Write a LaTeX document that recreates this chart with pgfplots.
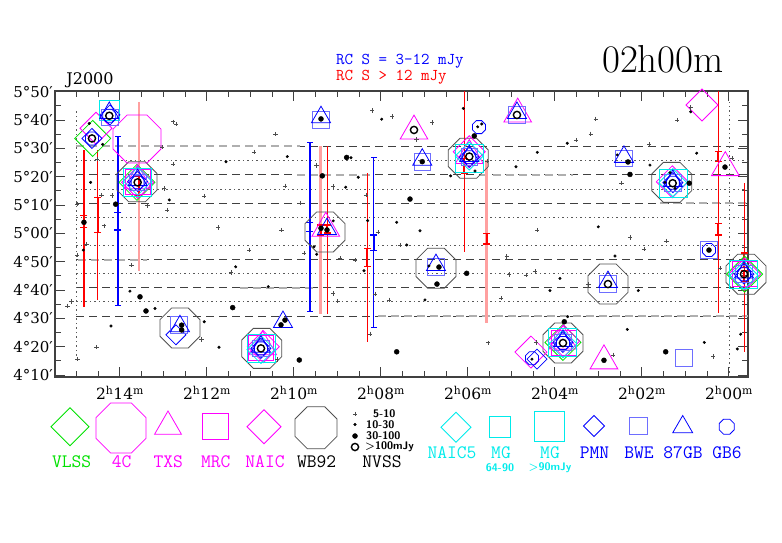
\documentclass[border=0pt]{standalone}
\usepackage{fontspec}
\usepackage{pgfplots}
\pgfplotsset{compat=1.18}
\newfontfamily\dvs{DejaVu Serif}
\definecolor{vlss}{RGB}{0,225,0}
\definecolor{mag}{RGB}{255,0,255}
\definecolor{cyn}{RGB}{0,235,235}
\definecolor{blu}{RGB}{0,0,255}
\definecolor{lblu}{RGB}{110,110,255}
\definecolor{wbg}{RGB}{80,80,80}
\definecolor{pnk}{RGB}{255,160,160}
\definecolor{rcred}{RGB}{255,0,0}
\definecolor{grline}{RGB}{175,175,175}
\pgfdeclareplotmark{oct}{%
  \pgfpathmoveto{\pgfqpoint{\pgfplotmarksize}{0.4142\pgfplotmarksize}}%
  \pgfpathlineto{\pgfqpoint{0.4142\pgfplotmarksize}{\pgfplotmarksize}}%
  \pgfpathlineto{\pgfqpoint{-0.4142\pgfplotmarksize}{\pgfplotmarksize}}%
  \pgfpathlineto{\pgfqpoint{-\pgfplotmarksize}{0.4142\pgfplotmarksize}}%
  \pgfpathlineto{\pgfqpoint{-\pgfplotmarksize}{-0.4142\pgfplotmarksize}}%
  \pgfpathlineto{\pgfqpoint{-0.4142\pgfplotmarksize}{-\pgfplotmarksize}}%
  \pgfpathlineto{\pgfqpoint{0.4142\pgfplotmarksize}{-\pgfplotmarksize}}%
  \pgfpathlineto{\pgfqpoint{\pgfplotmarksize}{-0.4142\pgfplotmarksize}}%
  \pgfpathclose\pgfusepathqstroke}
\pgfdeclareplotmark{dia}{%
  \pgfpathmoveto{\pgfqpoint{0pt}{\pgfplotmarksize}}%
  \pgfpathlineto{\pgfqpoint{\pgfplotmarksize}{0pt}}%
  \pgfpathlineto{\pgfqpoint{0pt}{-\pgfplotmarksize}}%
  \pgfpathlineto{\pgfqpoint{-\pgfplotmarksize}{0pt}}%
  \pgfpathclose\pgfusepathqstroke}
\pgfplotsset{
  cat/.style={only marks, mark options={line width=0.8pt, solid}},
  dashg/.style={black!75, line width=0.8pt, dash pattern=on 8pt off 5pt, forget plot},
  dashgg/.style={grline, line width=2pt, dash pattern=on 8pt off 5pt, forget plot},
  dotg/.style={black!65, line width=0.9pt, dash pattern=on 1.2pt off 3.3pt, forget plot},
}
\begin{document}
\begin{tikzpicture}
\useasboundingbox (0,0) rectangle (782pt,542pt);
\begin{axis}[
  at={(55pt,165pt)}, anchor=south west,
  scale only axis, width=693pt, height=286pt,
  x dir=reverse,
  xmin=-0.437, xmax=15.494, ymin=249.3, ymax=350.25,
  xtick={0,2,...,14},
  xticklabels={2\textsuperscript{h}00\textsuperscript{m},2\textsuperscript{h}02\textsuperscript{m},2\textsuperscript{h}04\textsuperscript{m},2\textsuperscript{h}06\textsuperscript{m},2\textsuperscript{h}08\textsuperscript{m},2\textsuperscript{h}10\textsuperscript{m},2\textsuperscript{h}12\textsuperscript{m},2\textsuperscript{h}14\textsuperscript{m}},
  minor xtick={0.5,1,...,15},
  ytick={250,260,...,350},
  yticklabels={4°10′,4°20′,4°30′,4°40′,4°50′,5°00′,5°10′,5°20′,5°30′,5°40′,5°50′},
  minor ytick={255,265,...,345},
  tick align=inside,
  major tick length=10pt, minor tick length=6pt,
  axis line style={line width=1.3pt, black!75},
  every tick/.style={line width=1pt, black!75},
  xticklabel style={font=\dvs\fontsize{15.5}{15.5}\selectfont, inner sep=0pt, yshift=-9pt},
  yticklabel style={font=\dvs\fontsize{15}{15}\selectfont, inner sep=0pt, xshift=-2pt},
  clip=true,
  unbounded coords=jump,
]
% ---- survey strip boundaries
\addplot[dashg] coordinates {(15,330.7) (-0.44,330.7)};
\addplot[dashg] coordinates {(15,320.7) (-0.44,320.7)};
\addplot[dashg] coordinates {(15,310.7) (-0.44,310.7)};
\addplot[dashg] coordinates {(15,290.7) (-0.44,290.7)};
\addplot[dashg] coordinates {(15,280.8) (-0.44,280.8)};
\addplot[dashg] coordinates {(15,270.8) (-0.44,270.8)};
\addplot[dashgg] coordinates {(15,330.7) (9.86,330.7)};
\addplot[dashgg] coordinates {(9.93,320.7) (8.18,320.7)};
\addplot[dashgg] coordinates {(5.72,320.7) (3.59,320.7)};
\addplot[dashgg] coordinates {(1.59,310.7) (-0.44,310.7)};
\addplot[dashgg] coordinates {(14.97,290.7) (13.38,290.7)};
\addplot[dashgg] coordinates {(11.24,280.8) (9.47,280.8)};
\addplot[dashgg] coordinates {(8.07,270.8) (-0.44,270.8)};
\addplot[dotg] coordinates {(15,325.6) (-0.44,325.6)};
\addplot[dotg] coordinates {(15,315.6) (-0.44,315.6)};
\addplot[dotg] coordinates {(15,305.6) (-0.44,305.6)};
\addplot[dotg] coordinates {(15,295.9) (-0.44,295.9)};
\addplot[dotg] coordinates {(15,285.9) (-0.44,285.9)};
\addplot[dotg] coordinates {(15,275.9) (-0.44,275.9)};
\addplot[dotg] coordinates {(15,255.3) (15,344)};
\addplot[dotg] coordinates {(0,249.3) (0,346.5)};
% ---- RC sources, S > 12 mJy: declination ranges (pink: wide, red: narrow)
\addplot[color=pnk, line width=2.6pt, forget plot] coordinates {
(13.563,346.4) (13.563,286.8) (nan,nan)
(9.386,330.8) (9.386,271.5) (nan,nan)
(5.570,325.9) (5.570,268.2)};
\addplot[color=red, line width=1.1pt, forget plot] coordinates {
(14.828,329.4) (14.828,274.0) (nan,nan)
(14.513,329.4) (14.513,276.5) (nan,nan)
(9.234,330.8) (9.234,271.5) (nan,nan)
(8.315,321.2) (8.315,261.8) (nan,nan)
(6.085,350.25) (6.085,293.5) (nan,nan)
(0.246,350.25) (0.246,271.8) (nan,nan)
(-0.352,317.7) (-0.352,258.2)};
% ---- RC sources, S = 3-12 mJy
\addplot[color=blue, line width=1.1pt, mark=-, mark size=3pt, mark options={color=blue, line width=1pt}, forget plot] coordinates {
(14.046,334.1) (14.046,274.4) (nan,nan)
(9.632,332.1) (9.632,272.3) (nan,nan)
(8.168,326.7) (8.168,266.8)};
% ---- RC positions
\addplot[color=red, line width=1.8pt, mark=-, mark size=3.5pt, mark options={color=red, line width=1.3pt}, forget plot] coordinates {
(14.828,306.2) (14.828,302.1) (nan,nan)
(14.513,312.6) (14.513,300.4) (nan,nan)
(13.563,320.0) (13.563,313.5) (nan,nan)
(9.386,302.9) (9.386,299.4) (nan,nan)
(9.234,302.9) (9.234,300.1) (nan,nan)
(8.315,294.7) (8.315,288.2) (nan,nan)
(6.085,326.5) (6.085,321.2) (nan,nan)
(5.570,300.0) (5.570,296.2) (nan,nan)
(0.246,328.8) (0.246,325.3) (nan,nan)
(0.246,303.5) (0.246,299.4) (nan,nan)
(-0.352,293.1) (-0.352,288.0) (nan,nan)
(-0.352,287.0) (-0.352,283.0)};
\addplot[color=blue, line width=1.8pt, mark=-, mark size=3.5pt, mark options={color=blue, line width=1.3pt}, forget plot] coordinates {
(14.046,307.4) (14.046,301.2) (nan,nan)
(9.632,303.8) (9.632,300.6) (nan,nan)
(8.168,299.4) (8.168,293.9)};
% ---- WB92
\addplot[cat, mark=oct, mark size=20pt, wbg] coordinates {(13.609,318.2) (5.993,326.5) (9.287,300.5) (6.736,287.7) (10.743,259.4) (12.621,266.6) (1.317,318.0) (2.782,282.1) (3.816,261.3) (-0.391,285.6)};
% ---- 4C
\addplot[cat, mark=oct, mark size=24pt, mag] coordinates {(13.609,333.3)};
% ---- VLSS
\addplot[cat, mark=dia, mark size=18pt, vlss] coordinates {(14.628,333.5) (13.609,318.0) (3.816,261.5) (-0.36,285.6)};
% ---- TXS
\addplot[cat, mark=triangle, mark size=16pt, mag] coordinates {(13.594,318.6) (7.241,336.1) (5.970,327.5) (9.269,301.8) (10.72,260.0) (4.857,342.1) (0.085,323.2) (3.816,262.0) (2.874,255.0)};
% ---- MRC
\addplot[cat, mark=square, mark size=12.5pt, mag] coordinates {(13.594,318.0) (10.76,259.4) (3.80,261.3) (-0.36,285.6)};
% ---- NAIC
\addplot[cat, mark=dia, mark size=16pt, mag] coordinates {(14.552,337.1) (13.594,318.0) (5.970,328.8) (10.705,260.0) (1.302,318.2) (0.621,345.3) (3.80,262.0) (4.552,258.1) (-0.36,285.6)};
% ---- NAIC5
\addplot[cat, mark=dia, mark size=14pt, cyn] coordinates {(13.594,318.4) (5.970,327.3) (10.76,259.0) (1.29,317.9) (3.816,261.0) (-0.345,285.2)};
% ---- MG > 90 mJy
\addplot[cat, mark=square, mark size=14pt, cyn] coordinates {(13.594,318.0) (5.97,326.5) (10.76,259.4) (1.28,317.6) (3.82,261.5) (-0.33,285.6)};
% ---- MG 64-90 mJy
\addplot[cat, mark=square, mark size=10pt, cyn] coordinates {(14.253,343.5)};
% ---- PMN
\addplot[cat, mark=dia, mark size=10pt, blu] coordinates {(14.644,333.5) (14.23,341.8) (13.594,318.3) (5.97,326.9) (10.76,259.4) (12.713,264.2) (1.29,317.9) (3.816,261.5) (4.414,255.6) (-0.345,285.6)};
% ---- BWE
\addplot[cat, mark=square, mark size=8.3pt, lblu] coordinates {(14.23,341.0) (13.594,318.0) (9.379,340.0) (5.97,326.9) (7.051,325.3) (6.736,288.1) (10.76,259.4) (12.644,267.6) (4.874,341.8) (1.29,317.9) (2.414,326.5) (2.782,282.1) (3.816,261.5) (1.034,256.0) (0.460,294.1) (-0.345,285.6)};
% ---- 87GB
\addplot[cat, mark=triangle, mark size=11pt, blu] coordinates {(14.246,342.5) (13.594,318.8) (9.379,341.0) (5.97,327.3) (7.051,326.0) (9.241,301.5) (6.736,288.8) (10.253,268.7) (10.76,260.0) (12.621,267.2) (4.874,342.5) (1.29,318.5) (2.414,327.0) (2.782,282.8) (3.816,262.0) (-0.345,286.2)};
% ---- GB6
\addplot[cat, mark=oct, mark size=6.5pt, blu] coordinates {(14.644,333.5) (14.246,341.5) (13.594,318.0) (5.97,326.9) (5.747,337.5) (10.76,259.4) (1.29,317.9) (3.816,261.3) (4.529,255.9) (0.460,294.1) (-0.345,285.6)};
% ---- NVSS 5-10 mJy
\addplot[only marks, mark=+, mark size=2.2pt, black!70, mark options={line width=0.5pt}] coordinates {
(14.522,326.2) (12.775,339.4) (12.713,338.6) (13.028,330.4) (12.775,324.5) (10.920,328.7) (12.989,315.9) (12.062,313.2) (12.913,308.2) (13.363,309.8)
(14.421,313.5) (14.177,313.3) (14.982,310.4) (14.361,302.7) (11.740,302.1) (14.766,296.2) (14.982,292.4) (13.731,288.8) (11.028,294.1) (11.448,286.2)
(15.110,275.9) (15.202,274.4) (14.536,259.8) (14.972,255.6) (12.122,262.6) (8.200,343.3) (7.740,341.2) (6.821,339.1) (7.179,333.2) (10.421,335.0)
(9.478,323.9) (10.207,316.8) (9.097,316.5) (9.862,310.8) (8.345,313.5) (10.283,301.2) (8.062,300.4) (5.556,325.6) (9.763,293.0) (8.943,291.2)
(8.598,290.6) (7.563,295.9) (8.138,278.6) (9.097,278.8) (8.995,276.1) (7.816,276.5) (5.241,277.1) (5.110,291.8) (5.051,285.5) (8.253,264.5)
(10.384,255.5) (5.533,261.4) (3.064,340.4) (1.189,340.0) (3.179,335.1) (3.517,332.9) (1.832,331.4) (-0.076,326.5) (2.467,317.7) (0.880,344.4)
(4.407,301.2) (2.276,298.6) (1.432,297.3) (1.954,294.4) (4.667,285.3) (4.460,286.5) (3.234,282.0) (0.207,287.7) (0.361,256.5) (4.437,261.5) (2.660,257.1)};
% ---- NVSS 10-30 mJy
\addplot[only marks, mark=*, mark size=1.3pt, black] coordinates {
(14.706,338.8) (14.398,331.4) (14.674,318.0) (11.563,325.3) (12.867,311.8) (14.844,294.1) (11.340,288.2) (13.770,279.6) (13.195,273.5) (14.207,267.3)
(12.062,268.8) (11.724,259.8) (7.984,340.3) (6.108,344.1) (10.154,327.1) (8.690,326.7) (8.522,319.8) (8.811,316.3) (8.306,304.5) (7.639,303.9)
(7.103,300.9) (9.097,304.4) (6.398,320.3) (5.839,322.0) (9.540,295.3) (9.478,292.6) (8.391,286.8) (7.409,295.9) (10.591,281.2) (6.989,276.5)
(3.717,331.8) (4.407,328.6) (0.743,328.3) (4.897,323.5) (1.816,324.1) (2.568,327.7) (0.880,342.9) (3.005,302.3) (2.621,292.0) (3.885,284.1)
(4.115,279.8) (2.085,279.8) (-0.269,264.4) (-0.191,259.2) (3.708,270.6) (2.338,266.1) (0.568,261.5) (4.529,255.6) (6.897,288.5) (5.777,337.6)
(5.685,338.6) (1.471,318.0) (1.241,315.9) (1.356,321.4)};
% ---- NVSS 30-100 mJy
\addplot[only marks, mark=*, mark size=2.5pt, black] coordinates {
(14.099,310.3) (14.828,303.9) (13.540,277.6) (13.402,272.6) (11.409,273.8) (5.855,334.4) (8.789,326.8) (9.349,320.3) (7.333,312.1) (6.030,285.9)
(7.639,258.2) (9.878,255.3) (2.276,320.8) (0.913,317.7) (3.786,268.8) (1.455,258.2) (9.379,340.4) (7.051,325.3) (9.379,301.8) (9.241,301.2)
(6.713,282.1) (6.667,288.1) (10.299,267.7) (10.207,269.4) (12.582,267.6) (12.582,265.9) (0.460,294.1) (2.322,325.2) (0.092,323.4) (2.874,255.2)};
% ---- NVSS > 100 mJy
\addplot[only marks, mark=o, mark size=3.6pt, black, mark options={line width=1.4pt}] coordinates {
(14.644,333.5) (14.246,341.5) (13.594,318.0) (7.241,336.5) (5.970,327.1) (10.759,259.4) (4.874,341.8) (1.294,317.7) (2.782,282.1) (3.816,261.3) (-0.345,285.6)};
\end{axis}
% ---- legend and titles (pixel frame of the picture)
\begin{axis}[
  at={(0pt,0pt)}, anchor=south west,
  scale only axis, width=782pt, height=542pt,
  xmin=0, xmax=782, ymin=0, ymax=542, y dir=reverse,
  hide axis, clip=false,
]
\addplot[cat, mark=dia, mark size=19pt, vlss] coordinates {(70,426.7)};
\addplot[cat, mark=oct, mark size=25pt, mag] coordinates {(121,428)};
\addplot[cat, mark=triangle, mark size=15.5pt, mag] coordinates {(168,426.5)};
\addplot[cat, mark=square, mark size=13pt, mag] coordinates {(215,426.7)};
\addplot[cat, mark=dia, mark size=17pt, mag] coordinates {(264,426.7)};
\addplot[cat, mark=oct, mark size=21pt, wbg] coordinates {(316,427.7)};
\addplot[only marks, mark=+, mark size=2.2pt, black!70, mark options={line width=0.5pt}] coordinates {(355,414)};
\addplot[only marks, mark=*, mark size=1.3pt, black] coordinates {(355,424.5)};
\addplot[only marks, mark=*, mark size=2.5pt, black] coordinates {(355,436)};
\addplot[only marks, mark=o, mark size=3.6pt, black, mark options={line width=1.4pt}] coordinates {(355,447)};
\addplot[cat, mark=dia, mark size=15pt, cyn] coordinates {(456,427.3)};
\addplot[cat, mark=square, mark size=10.5pt, cyn] coordinates {(500,426.7)};
\addplot[cat, mark=square, mark size=15pt, cyn] coordinates {(549.3,426.7)};
\addplot[cat, mark=dia, mark size=10.5pt, blu] coordinates {(594,426)};
\addplot[cat, mark=square, mark size=8.7pt, lblu] coordinates {(638.3,426)};
\addplot[cat, mark=triangle, mark size=11.5pt, blu] coordinates {(682.7,427)};
\addplot[cat, mark=oct, mark size=7.5pt, blu] coordinates {(726.7,426.7)};
\begin{scope}[font=\fontsize{19}{19}\ttfamily, inner sep=0pt]
\node[vlss] at (axis cs:71.7,462) {VLSS};
\node[mag] at (axis cs:121.7,462) {4C};
\node[mag] at (axis cs:168.3,462) {TXS};
\node[mag] at (axis cs:215.7,462) {MRC};
\node[mag] at (axis cs:265,462) {NAIC};
\node[black] at (axis cs:316.7,462) {WB92};
\node[black] at (axis cs:382,462) {NVSS};
\node[cyn] at (axis cs:452,452.7) {NAIC5};
\node[cyn] at (axis cs:501,452.7) {MG};
\node[cyn] at (axis cs:550,452.7) {MG};
\node[blu] at (axis cs:594.5,452.7) {PMN};
\node[blu] at (axis cs:639,452.7) {BWE};
\node[blu] at (axis cs:683,452.7) {87GB};
\node[blu] at (axis cs:727,452.7) {GB6};
\end{scope}
\node[font=\fontsize{16.5}{16.5}\ttfamily, blu, anchor=west, inner sep=0pt] at (axis cs:336,61) {RC S = 3-12 mJy};
\node[font=\fontsize{16.5}{16.5}\ttfamily, rcred, anchor=west, inner sep=0pt] at (axis cs:336,77) {RC S > 12 mJy};
\begin{scope}[font=\fontsize{11}{11}\sffamily\bfseries, inner sep=0pt]
\node[cyn] at (axis cs:500,467.7) {64-90};
\node[cyn] at (axis cs:550,467.7) {>90mJy};
\node[black, anchor=west] at (axis cs:373,414) {5-10};
\node[black, anchor=west] at (axis cs:366,425) {10-30};
\node[black, anchor=west] at (axis cs:366,436) {30-100};
\node[black, anchor=west] at (axis cs:365,447) {>100mJy};
\end{scope}
\node[font=\dvs\fontsize{16}{16}\selectfont, inner sep=0pt] at (axis cs:90,80) {J2000};
\node[font=\fontsize{39}{39}\selectfont, inner sep=0pt] at (axis cs:663,59) {02h00m};
\end{axis}
\end{tikzpicture}
\end{document}
